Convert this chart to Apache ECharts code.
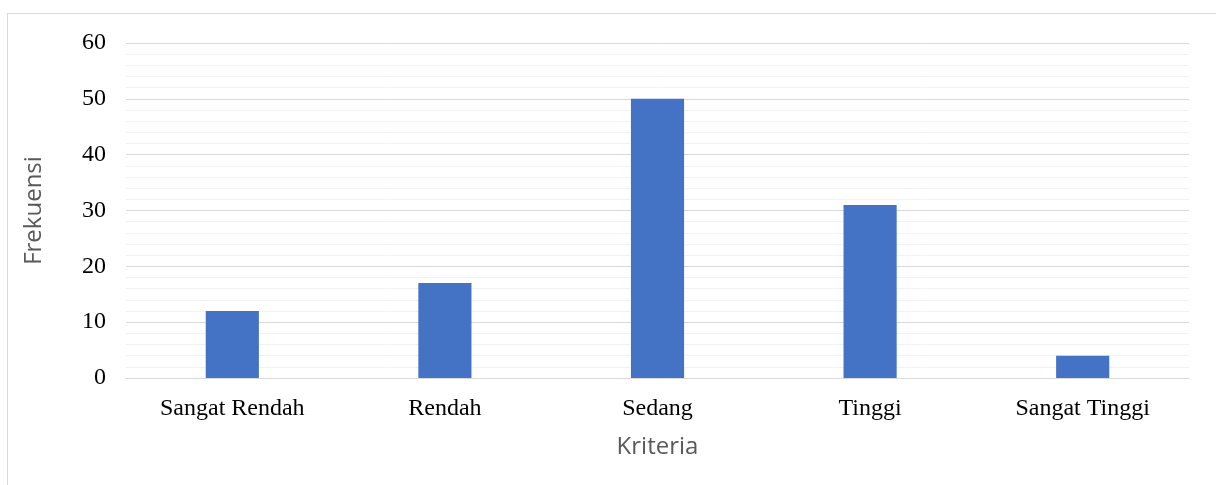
<!DOCTYPE html>
<html><head><meta charset="utf-8">
<script src="https://cdn.jsdelivr.net/npm/echarts@6/dist/echarts.min.js"></script>
<style>
html,body{margin:0;padding:0;background:#fff;}
#frame{position:absolute;left:7px;top:13px;width:1220px;height:490px;border:1px solid #d9d9d9;box-sizing:border-box;}
#chart{position:absolute;left:0;top:0;width:1216px;height:485px;}
</style></head>
<body>
<div id="frame"></div>
<div id="chart"></div>
<script>
const categories = ["Sangat Rendah", "Rendah", "Sedang", "Tinggi", "Sangat Tinggi"];
const frekuensi = [12, 17, 50, 31, 4];
const yTicks = { min: 0, max: 60, interval: 10 };

const chart = echarts.init(document.getElementById('chart'), null, {renderer: 'canvas'});
chart.setOption({
  animation: false,
  grid: { left: 126, right: 27, top: 43, bottom: 107, containLabel: false },
  xAxis: {
    type: 'category',
    data: categories,
    name: 'Kriteria',
    nameLocation: 'middle',
    nameGap: 57,
    nameTextStyle: { fontFamily: 'Open Sans', fontSize: 24, color: '#595959' },
    axisLine: { show: true, lineStyle: { color: '#d9d9d9', width: 1 } },
    axisTick: { show: false },
    axisLabel: { fontFamily: 'Liberation Serif', fontSize: 24, color: '#000', margin: 19 },
    splitLine: { show: false }
  },
  yAxis: {
    type: 'value',
    min: yTicks.min, max: yTicks.max, interval: yTicks.interval,
    name: 'Frekuensi',
    nameLocation: 'middle',
    nameGap: 80,
    nameRotate: 90,
    nameTextStyle: { fontFamily: 'Open Sans', fontSize: 24, color: '#595959' },
    axisLine: { show: false },
    axisTick: { show: false },
    axisLabel: { fontFamily: 'Liberation Serif', fontSize: 24, color: '#000', margin: 20 },
    splitLine: { show: true, lineStyle: { color: '#d9d9d9', width: 1 } },
    minorTick: { show: false, splitNumber: 5 },
    minorSplitLine: { show: true, lineStyle: { color: '#f2f2f2', width: 1 } }
  },
  series: [{
    type: 'bar',
    data: frekuensi,
    barWidth: '25%',
    itemStyle: { color: '#4472c4' }
  }]
});
</script>
</body></html>
